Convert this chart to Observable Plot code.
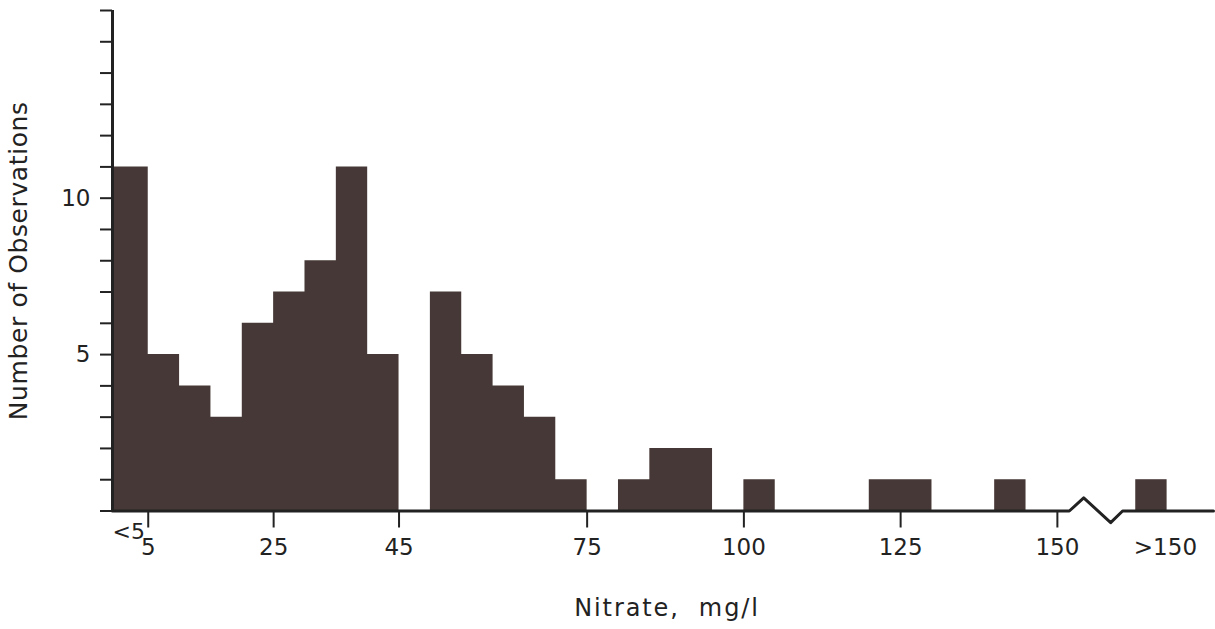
<!DOCTYPE html>
<html>
<head>
<meta charset="utf-8">
<script src="https://cdn.jsdelivr.net/npm/d3@7"></script>
<script src="https://cdn.jsdelivr.net/npm/@observablehq/plot@0.6"></script>
<style>
  html, body { margin: 0; padding: 0; background: #ffffff; }
  #chart { width: 1215px; height: 629px; }
</style>
</head>
<body>
<div id="chart"></div>
<script>
// ---- Data ----
// Nitrate bins (mg/l): lower edges; "<5" starts at the axis origin, ">150" sits past the axis break
const binLabels = ["<5","5-10","10-15","15-20","20-25","25-30","30-35","35-40","40-45","45-50",
  "50-55","55-60","60-65","65-70","70-75","75-80","80-85","85-90","90-95","95-100",
  "100-105","105-110","110-115","115-120","120-125","125-130","130-135","135-140","140-145","145-150"];
const binLower = [-0.7,5,10,15,20,25,30,35,40,45,50,55,60,65,70,75,80,85,90,95,100,105,110,115,120,125,130,135,140,145];
const counts   = [11,5,4,3,6,7,8,11,5,0,7,5,4,3,1,0,1,2,2,0,1,0,0,0,1,1,0,0,1,0];
const lastUpper = 150;
// the ">150" bin, drawn past the axis break
const overLabel = ">150";
const overLower = 162.5, overUpper = 167.5, overCount = 1;

const xTickValues = [5,25,45,75,100,125,150];
const yTickValues = d3.range(0,17);
const yLabelled = [5,10];
const lowLabel = ["<5"];
const xTitle = "Nitrate,\u00a0 mg/l";
const yTitle = "Number of Observations";

// baseline with axis-break zigzag (data units)
const baseX = [-0.7, 151.9, 154.2, 158.5, 160.4, 174.9];
const baseY = [0, 0, 0.42, -0.37, 0, 0];

const xMin = -0.7, xMax = 174.9;

const steps = binLower.map((x,i) => ({bin: binLabels[i], x, count: counts[i]})).concat([{bin: "end", x: lastUpper, count: 0}]);
const overBin = [{bin: overLabel, lo: overLower, hi: overUpper, count: overCount}];
const baseline = baseX.map((x,i) => ({x, y: baseY[i]}));

const ink = "#222222";
const barFill = "#453836";

const chart = Plot.plot({
  width: 1215,
  height: 629,
  marginLeft: 112,
  marginRight: 2,
  marginTop: 10,
  marginBottom: 118.5,
  x: {domain: [xMin, xMax], axis: null},
  y: {domain: [0, 16], axis: null},
  style: {fontFamily: "DejaVu Sans", fontSize: "22px", color: ink, background: "#ffffff"},
  marks: [
    Plot.areaY(steps, {x: "x", y: "count", curve: "step-after", fill: barFill}),
    Plot.rectY(overBin, {x1: "lo", x2: "hi", y: "count", fill: barFill}),
    Plot.ruleX([xMin], {y1: 0, y2: 16, stroke: ink, strokeWidth: 3}),
    Plot.line(baseline, {x: "x", y: "y", stroke: ink, strokeWidth: 3, curve: "linear"}),
    Plot.axisY({ticks: yTickValues, tickSize: 12, tickPadding: 10, strokeWidth: 2,
      tickFormat: d => yLabelled.includes(d) ? String(d) : "", label: null, fontSize: 23}),
    Plot.axisX({ticks: xTickValues, tickSize: 17, tickPadding: 11, strokeWidth: 2, label: null, fontSize: 23}),
    Plot.text(lowLabel, {x: xMin, y: 0, text: d => d, textAnchor: "start", lineAnchor: "middle", dy: 20.5, fontSize: 22, fill: ink}),
    Plot.text(overBin, {x: d => (d.lo + d.hi) / 2, y: 0, text: "bin", textAnchor: "middle", lineAnchor: "middle", dx: 14, dy: 37, fontSize: 23, fill: ink}),
    Plot.text([xTitle], {frameAnchor: "bottom", text: d => d, lineAnchor: "middle", dy: 97, dx: 4, fontSize: 24, fill: ink}),
    Plot.text([yTitle], {frameAnchor: "left", text: d => d, rotate: -90, lineAnchor: "middle", textAnchor: "middle", dx: -94, fontSize: 25, fill: ink})
  ]
});

// widen the titles' letter spacing to match the reference typeface
d3.select(chart).selectAll("text").each(function() {
  const t = this.textContent;
  if (t === xTitle) d3.select(this).attr("letter-spacing", "1.9px");
  if (t === yTitle) d3.select(this).attr("letter-spacing", "0.6px");
});
document.getElementById("chart").appendChild(chart);
</script>
</body>
</html>
